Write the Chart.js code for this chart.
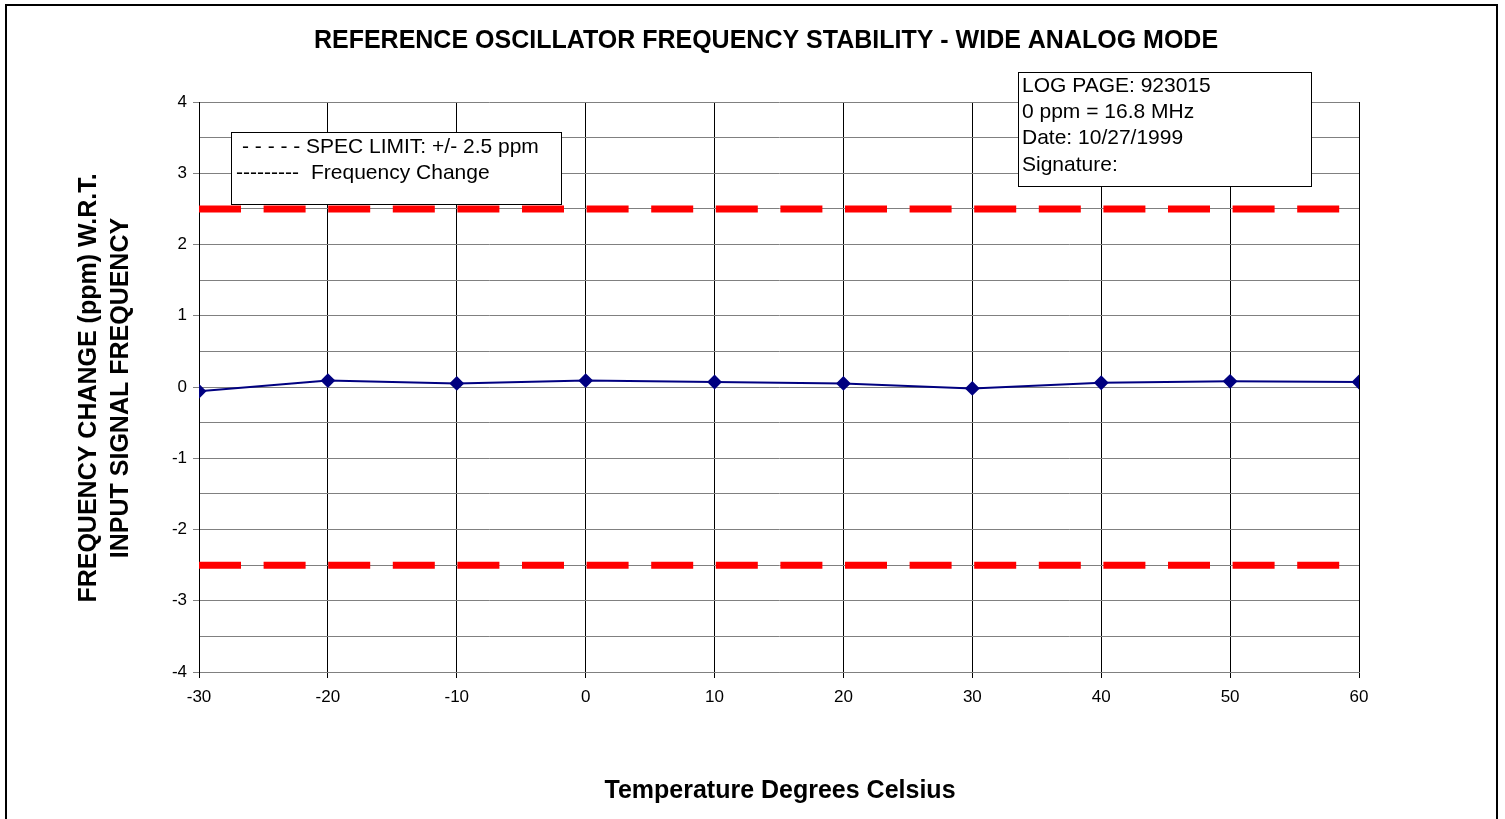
<!DOCTYPE html>
<html>
<head>
<meta charset="utf-8">
<script src="https://cdn.jsdelivr.net/npm/chart.js@4"></script>
<style>
  html, body { margin: 0; padding: 0; background: #fff; }
  #wrap { width: 1505px; height: 819px; }
</style>
</head>
<body>
<div id="wrap"><canvas id="stabilityChart" width="1505" height="819"></canvas></div>
<script>
// temperatures (deg C) and measured frequency change (ppm)
let temperatures = [-30, -20, -10, 0, 10, 20, 30, 40, 50, 60];
let freqChange = [-0.06, 0.09, 0.05, 0.09, 0.07, 0.05, -0.02, 0.06, 0.08, 0.07];

// spec limit lines
let specX = [-30, 60];
let specUpper = [2.5, 2.5];
let specLower = [-2.5, -2.5];

let chartTitle = "REFERENCE OSCILLATOR FREQUENCY STABILITY - WIDE ANALOG MODE";
let yTitleLines = ["FREQUENCY CHANGE (ppm) W.R.T.", "INPUT SIGNAL FREQUENCY"];
let xTitle = "Temperature Degrees Celsius";
let legendLines = [["- - - - -", "SPEC LIMIT: +/- 2.5 ppm"], ["---------", "Frequency Change"]];
let infoLines = ["LOG PAGE: 923015", "0 ppm = 16.8 MHz", "Date: 10/27/1999", "Signature:"];

const FONT = "Arial, 'Liberation Sans', sans-serif";

function toPoints(xs, ys) {
    return xs.map((x, i) => ({ x: x, y: ys[i] }));
}

// draws the outer frame, titles, legend and info box
const decorations = {
    id: "decorations",
    beforeDraw(chart) {
        let ctx = chart.ctx;
        ctx.save();
        ctx.fillStyle = "#fff";
        ctx.fillRect(0, 0, chart.width, chart.height);
        ctx.strokeStyle = "#000";
        ctx.lineWidth = 2;
        ctx.strokeRect(6, 5, 1491, 830);
        ctx.restore();
    },
    afterDraw(chart) {
        let ctx = chart.ctx;
        ctx.save();
        ctx.fillStyle = "#000";
        ctx.textBaseline = "middle";

        // main title
        ctx.font = "bold 25px " + FONT;
        ctx.textAlign = "center";
        ctx.fillText(chartTitle, 766, 41);

        // x axis title
        ctx.fillText(xTitle, 780, 791);

        // y axis title (two lines, rotated)
        ctx.save();
        ctx.translate(89, 388);
        ctx.rotate(-Math.PI / 2);
        ctx.fillText(yTitleLines[0], 0, 0);
        ctx.fillText(yTitleLines[1], 0, 32);
        ctx.restore();

        // legend box
        ctx.fillStyle = "#fff";
        ctx.fillRect(231, 132, 330, 72);
        ctx.strokeStyle = "#000";
        ctx.lineWidth = 1;
        ctx.strokeRect(231.5, 132.5, 330, 72);
        ctx.fillStyle = "#000";
        ctx.textAlign = "left";
        ctx.font = "21px " + FONT;
        ctx.fillText(legendLines[0][0], 242, 147);
        ctx.fillText(legendLines[0][1], 306, 147);
        ctx.fillText(legendLines[1][0], 236, 173);
        ctx.fillText(legendLines[1][1], 311, 173);

        // info box
        ctx.fillStyle = "#fff";
        ctx.fillRect(1018, 72, 293, 114);
        ctx.strokeRect(1018.5, 72.5, 293, 114);
        ctx.fillStyle = "#000";
        infoLines.forEach((line, i) => {
            ctx.fillText(line, 1022, 86 + i * 26.3);
        });
        ctx.restore();
    }
};

let ctx = document.getElementById("stabilityChart").getContext("2d");
new Chart(ctx, {
    type: "line",
    data: {
        datasets: [
            {
                label: "Frequency Change",
                data: toPoints(temperatures, freqChange),
                borderColor: "#000080",
                backgroundColor: "#000080",
                borderWidth: 2,
                pointStyle: "rectRot",
                pointRadius: 6,
                pointHoverRadius: 6,
                tension: 0,
                order: 0
            },
            {
                label: "SPEC LIMIT upper",
                data: toPoints(specX, specUpper),
                borderColor: "#ff0000",
                borderWidth: 7,
                borderDash: [42, 22.6],
                borderCapStyle: "butt",
                pointRadius: 0,
                order: 1
            },
            {
                label: "SPEC LIMIT lower",
                data: toPoints(specX, specLower),
                borderColor: "#ff0000",
                borderWidth: 7,
                borderDash: [42, 22.6],
                borderCapStyle: "butt",
                pointRadius: 0,
                order: 1
            }
        ]
    },
    options: {
        responsive: false,
        animation: false,
        events: [],
        layout: { padding: { top: 102, left: 0, right: 146, bottom: 107 } },
        plugins: {
            legend: { display: false },
            title: { display: false },
            tooltip: { enabled: false }
        },
        scales: {
            x: {
                type: "linear",
                min: -30,
                max: 60,
                afterFit: (scale) => { scale.height = 40; },
                ticks: {
                    stepSize: 10,
                    color: "#000",
                    font: { family: FONT, size: 17 },
                    padding: 9
                },
                grid: { color: "#000", lineWidth: 1, tickLength: 6 },
                border: { color: "#808080", width: 1 }
            },
            y: {
                min: -4,
                max: 4,
                afterFit: (scale) => { scale.width = 199; },
                ticks: {
                    stepSize: 0.5,
                    color: "#000",
                    font: { family: FONT, size: 17 },
                    padding: 6,
                    callback: (value) => Number.isInteger(value) ? value : ""
                },
                grid: {
                    color: "#808080",
                    lineWidth: 1,
                    tickLength: 6,
                    tickColor: (c) => Number.isInteger(c.tick.value) ? "#808080" : "rgba(0,0,0,0)"
                },
                border: { color: "#000", width: 1 }
            }
        }
    },
    plugins: [decorations]
});
</script>
</body>
</html>
